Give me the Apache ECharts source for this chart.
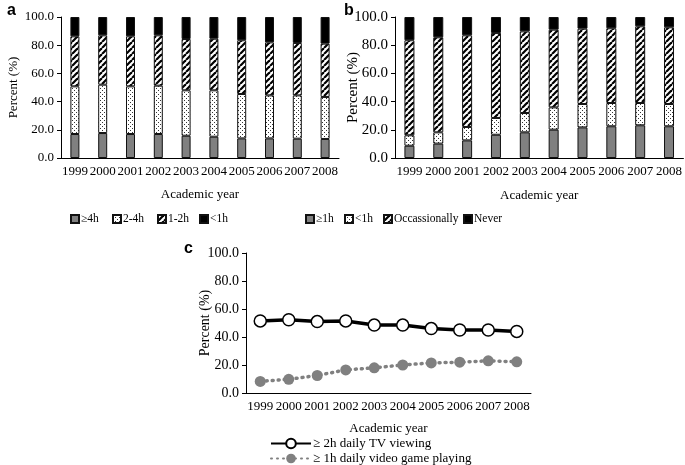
<!DOCTYPE html>
<html><head><meta charset="utf-8">
<script src="https://cdn.jsdelivr.net/npm/echarts@6/dist/echarts.min.js"></script>
<style>html,body{margin:0;padding:0;background:#fff}#c{width:685px;height:465px}</style>
</head><body><div id="c"></div>
<script>
const years = ['1999','2000','2001','2002','2003','2004','2005','2006','2007','2008'];
const yTicks = [0, 20, 40, 60, 80, 100];
// Panel a: TV viewing time segments (%)
const tvGe4 = [17.0, 17.7, 17.0, 17.0, 15.8, 15.1, 13.9, 13.9, 13.7, 13.5];
const tv2to4 = [33.8, 34.3, 33.8, 34.3, 32.2, 32.9, 31.5, 30.5, 30.7, 29.8];
const tv1to2 = [35.5, 35.0, 35.5, 35.7, 36.4, 36.6, 38.1, 37.6, 37.2, 37.8];
const tvLt1 = [13.7, 13.0, 13.7, 13.0, 15.6, 15.4, 16.5, 18.0, 18.4, 18.9];
// Panel b: video game time segments (%)
const gGe1 = [8.7, 10.2, 12.5, 16.5, 18.2, 20.1, 21.7, 22.5, 23.2, 22.5];
const gLt1 = [7.4, 8.0, 9.5, 11.9, 13.7, 15.8, 16.6, 16.5, 15.8, 15.8];
const gOcc = [67.4, 67.4, 65.0, 60.3, 57.9, 55.1, 53.4, 53.0, 54.4, 54.4];
const gNever = [16.5, 14.4, 13.0, 11.3, 10.2, 9.0, 8.3, 8.0, 6.6, 7.3];
// Panel c: trends (%)
const tvLine = [51.5, 52.3, 51.0, 51.5, 48.5, 48.5, 46.0, 45.0, 45.0, 44.0];
const gameLine = [8.3, 9.8, 12.5, 16.5, 18.0, 20.0, 21.5, 22.0, 23.0, 22.3];

const namesA = ['\u22654h', '2-4h', '1-2h', '<1h'];
const namesB = ['\u22651h', '<1h ', 'Occassionally', 'Never'];
const namesC = ['\u2265 2h daily TV viewing', '\u2265 1h daily video game playing'];

function dotPattern(){
  const c = document.createElement('canvas'); c.width = 4; c.height = 4;
  const g = c.getContext('2d');
  g.fillStyle = '#fff'; g.fillRect(0,0,4,4);
  g.fillStyle = '#333'; g.fillRect(0,0,1,1); g.fillRect(2,2,1,1);
  return {image: c, repeat: 'repeat'};
}
function stripePattern(){
  const s = 6;
  const c = document.createElement('canvas'); c.width = s; c.height = s;
  const g = c.getContext('2d');
  g.fillStyle = '#fff'; g.fillRect(0,0,s,s);
  g.strokeStyle = '#000'; g.lineWidth = 2.2;
  for (let k = -1; k <= 1; k++) { g.beginPath(); g.moveTo(k*s, s); g.lineTo(k*s + s, 0); g.stroke(); }
  return {image: c, repeat: 'repeat'};
}
const GRAY = '#808080';
const fills = [GRAY, dotPattern(), stripePattern(), '#000'];
const serif = 'Liberation Serif';

function xAx(grid, fs, gap){
  return {type:'category', gridIndex: grid, data: years, boundaryGap: true,
    name: 'Academic year', nameLocation: 'middle', nameGap: gap, nameMoveOverlap: false,
    nameTextStyle: {fontFamily: serif, fontSize: fs, color: '#000'},
    axisLine: {lineStyle: {color: '#000', width: 1}},
    axisTick: {alignWithLabel: true, length: 4, lineStyle: {color: '#000'}},
    axisLabel: {interval: 0, fontFamily: serif, fontSize: fs, color: '#000', margin: 7}};
}
function yAx(grid, fs, gap){
  return {type:'value', gridIndex: grid, min: yTicks[0], max: yTicks[yTicks.length-1], interval: 20,
    name: 'Percent (%)', nameLocation: 'middle', nameGap: gap, nameMoveOverlap: false,
    nameTextStyle: {fontFamily: serif, fontSize: fs, color: '#000'},
    axisLine: {show: true, lineStyle: {color: '#000', width: 1}},
    axisTick: {show: true, length: 4, lineStyle: {color: '#000'}},
    splitLine: {show: false},
    axisLabel: {fontFamily: serif, fontSize: fs, color: '#000', margin: 7, formatter: v => v.toFixed(1)}};
}

const series = [];
[tvGe4, tv2to4, tv1to2, tvLt1].forEach((d, i) => series.push({
  type: 'bar', name: namesA[i], stack: 'a', xAxisIndex: 0, yAxisIndex: 0, data: d, barWidth: 9,
  itemStyle: {color: fills[i], borderColor: '#111', borderWidth: 1}, emphasis: {disabled: true}
}));
[gGe1, gLt1, gOcc, gNever].forEach((d, i) => series.push({
  type: 'bar', name: namesB[i], stack: 'b', xAxisIndex: 1, yAxisIndex: 1, data: d, barWidth: 10,
  itemStyle: {color: fills[i], borderColor: '#111', borderWidth: 1}, emphasis: {disabled: true}
}));
series.push({type: 'line', name: namesC[0], xAxisIndex: 2, yAxisIndex: 2, data: tvLine,
  symbol: 'circle', symbolSize: 12, lineStyle: {color: '#000', width: 3.5},
  itemStyle: {color: '#fff', borderColor: '#000', borderWidth: 1.5}});
series.push({type: 'line', name: namesC[1], xAxisIndex: 2, yAxisIndex: 2, data: gameLine,
  symbol: 'circle', symbolSize: 11, lineStyle: {color: GRAY, width: 3.5, type: [1, 5], cap: 'round'},
  itemStyle: {color: GRAY, borderColor: GRAY, borderWidth: 0}});

const legendPos = [
  [namesA[0], 70], [namesA[1], 112], [namesA[2], 157], [namesA[3], 199],
  [namesB[0], 305], [namesB[1], 344], [namesB[2], 383], [namesB[3], 463]
];
const legends = legendPos.map(([n, x]) => ({
  data: [{name: n, icon: 'rect'}], left: x, top: 213, padding: 0, itemWidth: 8, itemHeight: 8, itemGap: 0,
  selectedMode: false, textStyle: {fontFamily: serif, fontSize: 11.5, color: '#000', padding: [0,0,0,-3]}
}));
legends.push({data: namesC, left: 270, top: 437, padding: 0, orient: 'vertical', itemWidth: 40, itemHeight: 12,
  itemGap: 2, selectedMode: false, textStyle: {fontFamily: serif, fontSize: 13, color: '#000', padding: [0,0,0,-3]}});

const chart = echarts.init(document.getElementById('c'), null, {renderer: 'canvas'});
chart.setOption({
  animation: false,
  backgroundColor: '#fff',
  title: [
    {text: 'a', left: 2, top: -2, textStyle: {fontFamily: 'Liberation Sans', fontWeight: 'bold', fontSize: 16, color: '#000'}},
    {text: 'b', left: 339, top: -2, textStyle: {fontFamily: 'Liberation Sans', fontWeight: 'bold', fontSize: 16, color: '#000'}},
    {text: 'c', left: 179, top: 236, textStyle: {fontFamily: 'Liberation Sans', fontWeight: 'bold', fontSize: 16, color: '#000'}}
  ],
  grid: [
    {left: 61, right: 346, top: 17, bottom: 307},
    {left: 395, right: 1, top: 17, bottom: 307},
    {left: 246, right: 154, top: 253, bottom: 72}
  ],
  xAxis: [xAx(0, 13, 30), xAx(1, 13, 31), xAx(2, 13, 29)],
  yAxis: [yAx(0, 13, 41), yAx(1, 15, 34), yAx(2, 14, 34)],
  legend: legends,
  series: series
});
</script>
</body></html>
